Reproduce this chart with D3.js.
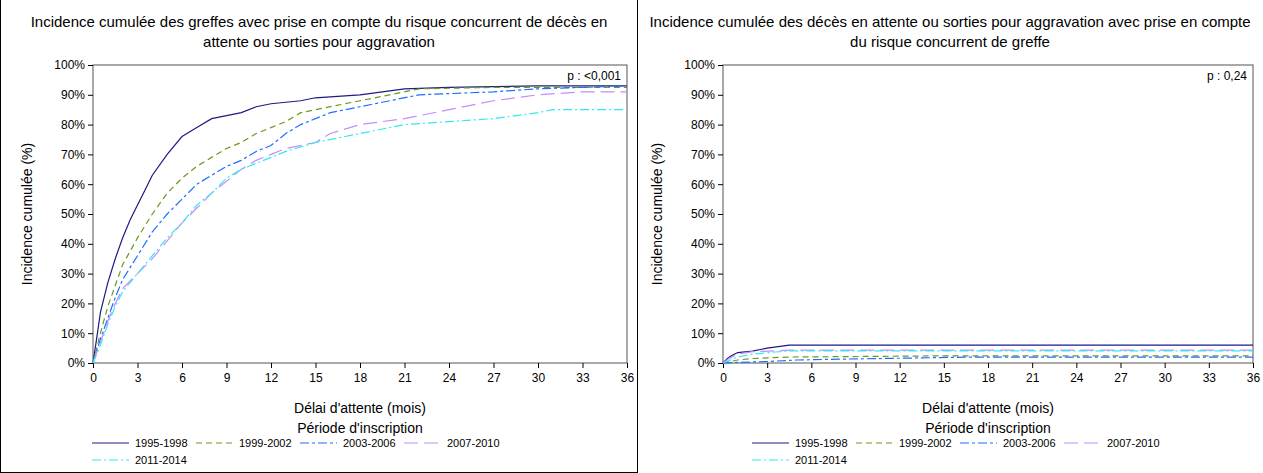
<!DOCTYPE html>
<html><head><meta charset="utf-8">
<script src="https://cdn.jsdelivr.net/npm/d3@7"></script>
<style>body{margin:0;background:#fff;font-family:"Liberation Sans",Arial,sans-serif;}</style>
</head><body><svg width="1263" height="473"></svg>
<script>
// series: [month, cumulative %]
const periods = ['1995-1998', '1999-2002', '2003-2006', '2007-2010', '2011-2014'];
const colors = ['#1f1a80', '#6a9a1f', '#1f6fff', '#c38cff', '#33e8f0'];
const dashes = [null, '6,4', '9,3,3,3', '14,6', '9,3,2,3'];
const xTicks = [0, 3, 6, 9, 12, 15, 18, 21, 24, 27, 30, 33, 36];
const yTicks = [0, 10, 20, 30, 40, 50, 60, 70, 80, 90, 100];

const greffe1995 = [[0,0],[0.3,10],[0.5,17],[1,27],[1.5,35],[2,42],[2.5,48],[3,53],[3.5,58],[4,63],[5,70],[6,76],[7,79],[8,82],[9,83],[10,84],[11,86],[12,87],[14,88],[15,89],[18,90],[21,92],[24,92.5],[30,93],[36,93]];
const greffe1999 = [[0,0],[0.5,10],[1,19],[1.5,26],[2,33],[3,42],[4,50],[5,57],[6,62],[7,66],[8,69],[9,72],[10,74],[11,77],[12,79],[13,81],[14,84],[15,85],[17,87],[18,88],[20,90],[22,92],[27,92.5],[36,92.5]];
const greffe2003 = [[0,0],[0.5,8],[1,15],[1.5,22],[2,28],[3,36],[4,44],[5,50],[6,55],[7,60],[8,63],[9,66],[10,68],[11,71],[12,73],[13,77],[14,80],[15,82],[16,84],[18,86],[20,88],[22,90],[27,91],[30,92],[33,92.5],[36,93]];
const greffe2007 = [[0,0],[0.5,7],[1,14],[1.5,20],[2,25],[3,30],[4,35],[5,41],[6,47],[7,52],[8,57],[9,61],[10,65],[11,68],[12,70],[13,72],[15,74],[16,77],[18,80],[21,82],[24,85],[27,88],[30,90],[33,91],[36,91]];
const greffe2011 = [[0,0],[0.5,6],[1,13],[1.5,19],[2,24],[3,30],[4,36],[5,42],[6,47],[7,53],[8,57],[9,62],[10,65],[11,67],[12,69],[13,71],[15,74],[17,76],[19,78],[21,80],[24,81],[27,82],[30,84],[31,85],[36,85]];

const deces1995 = [[0,0],[0.3,1.5],[0.6,2.5],[1,3.5],[2,4],[3,5],[4.5,6],[36,6]];
const deces1999 = [[0,0],[0.5,0.5],[1,1],[2,1.5],[4.5,2],[15,2.4],[36,2.4]];
const deces2003 = [[0,0],[1,0.2],[3,0.5],[5,1],[8,1.3],[12,1.6],[17,2],[36,2]];
const deces2007 = [[0,0],[0.4,1.5],[1,3],[2,3.8],[4.5,4.3],[36,4.3]];
const deces2011 = [[0,0],[0.5,1],[1,2],[2,3],[4.5,4.1],[36,4.1]];

const panels = [
  {x0: 93, x1: 627, tx: 319, lx: 93, title: ['Incidence cumulée des greffes avec prise en compte du risque concurrent de décès en', 'attente ou sorties pour aggravation'], p: 'p : <0,001',
   series: [greffe1995, greffe1999, greffe2003, greffe2007, greffe2011]},
  {x0: 723, x1: 1253, tx: 950, lx: 753, title: ['Incidence cumulée des décès en attente ou sorties pour aggravation avec prise en compte', 'du risque concurrent de greffe'], p: 'p : 0,24',
   series: [deces1995, deces1999, deces2003, deces2007, deces2011]}
];

const svg = d3.select('svg');
// outer frame lines
svg.append('line').attr('x1', 0.5).attr('x2', 0.5).attr('y1', 0).attr('y2', 473).attr('stroke', '#000');
svg.append('line').attr('x1', 637.5).attr('x2', 637.5).attr('y1', 0).attr('y2', 473).attr('stroke', '#000');
svg.append('line').attr('x1', 0).attr('x2', 638).attr('y1', 472.5).attr('y2', 472.5).attr('stroke', '#000');

const plotTop = 65, plotBottom = 363;
panels.forEach(pan => {
  const x = d3.scaleLinear().domain([0, 36]).range([pan.x0, pan.x1]);
  const y = d3.scaleLinear().domain([0, 100]).range([plotBottom, plotTop]);
  const g = svg.append('g');
  const cx = (pan.x0 + pan.x1) / 2;

  pan.title.forEach((t, i) => g.append('text').attr('x', pan.tx).attr('y', 27 + i * 20)
    .attr('text-anchor', 'middle').attr('font-size', 15).text(t));

  g.append('rect').attr('x', pan.x0).attr('y', plotTop).attr('width', pan.x1 - pan.x0).attr('height', plotBottom - plotTop)
    .attr('fill', 'none').attr('stroke', '#555');

  const ax = g.append('g').attr('transform', `translate(0,${plotBottom})`)
    .call(d3.axisBottom(x).tickValues(xTicks).tickSizeOuter(0).tickSize(5));
  ax.select('.domain').remove();
  ax.selectAll('text').attr('font-size', 12).attr('font-family', 'Liberation Sans').attr('dy', '0.9em');
  const ay = g.append('g').attr('transform', `translate(${pan.x0},0)`)
    .call(d3.axisLeft(y).tickValues(yTicks).tickFormat(d => d + '%').tickSizeOuter(0).tickSize(5));
  ay.select('.domain').remove();
  ay.selectAll('text').attr('font-size', 12).attr('font-family', 'Liberation Sans');

  g.append('text').attr('x', pan.x1 - 6).attr('y', plotTop + 15).attr('text-anchor', 'end').attr('font-size', 12).text(pan.p);
  g.append('text').attr('transform', `translate(${pan.x0 - 61},${(plotTop + plotBottom) / 2}) rotate(-90)`)
    .attr('text-anchor', 'middle').attr('font-size', 14).text('Incidence cumulée (%)');
  g.append('text').attr('x', cx).attr('y', 413).attr('text-anchor', 'middle').attr('font-size', 14).text("Délai d'attente (mois)");
  g.append('text').attr('x', cx).attr('y', 433).attr('text-anchor', 'middle').attr('font-size', 14).text("Période d'inscription");

  const line = d3.line().x(d => x(d[0])).y(d => y(d[1])).curve(d3.curveLinear);
  pan.series.forEach((s, i) => {
    g.append('path').datum(s).attr('d', line).attr('fill', 'none')
      .attr('stroke', colors[i]).attr('stroke-width', 1.2).attr('stroke-dasharray', dashes[i]);
  });

  // legend
  const lx = pan.lx;
  const positions = [[lx, 443], [lx + 104, 443], [lx + 208, 443], [lx + 312, 443], [lx, 460]];
  periods.forEach((p, i) => {
    const [px, py] = positions[i];
    g.append('line').attr('x1', px - 1).attr('x2', px + 36).attr('y1', py).attr('y2', py)
      .attr('stroke', colors[i]).attr('stroke-width', 1.2).attr('stroke-dasharray', dashes[i]);
    g.append('text').attr('x', px + 42).attr('y', py + 4).attr('font-size', 11).text(p);
  });
});
</script></body></html>
